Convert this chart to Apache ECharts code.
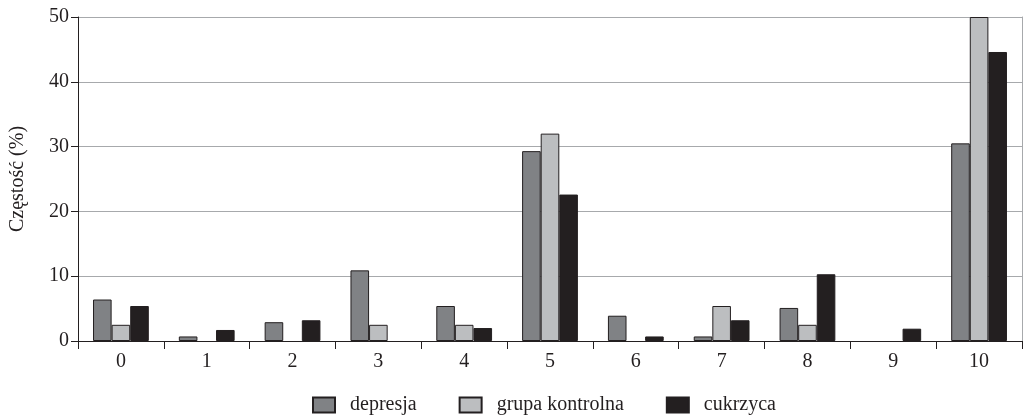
<!DOCTYPE html>
<html>
<head>
<meta charset="utf-8">
<script src="https://cdn.jsdelivr.net/npm/echarts@6/dist/echarts.min.js"></script>
<style>html,body{margin:0;padding:0;background:#fff}#c{width:1028px;height:415px}</style>
</head>
<body>
<div id="c"></div>
<script>
const categories = ['0','1','2','3','4','5','6','7','8','9','10'];
const depresja = [6.4, 0.7, 2.9, 10.9, 5.4, 29.3, 3.9, 0.7, 5.1, 0, 30.5];
const grupaKontrolna = [2.5, 0, 0, 2.5, 2.5, 32.0, 0, 5.4, 2.5, 0, 50];
const cukrzyca = [5.4, 1.7, 3.2, 0, 2.0, 22.6, 0.7, 3.2, 10.3, 1.9, 44.6];
const seriesNames = ['depresja', 'grupa kontrolna', 'cukrzyca'];
const yTicks = [0, 10, 20, 30, 40, 50];

const FONT = '"Liberation Serif", "DejaVu Serif", serif';
const chart = echarts.init(document.getElementById('c'));
const toItems = (arr) => arr.map(v => v === 0 ? { value: 0, itemStyle: { borderWidth: 0, opacity: 0 } } : v);
const barStyle = (fill) => ({ color: fill, borderColor: '#231f20', borderWidth: 1 });
chart.setOption({
  animation: false,
  textStyle: { fontFamily: FONT },
  grid: { left: 77, right: 6, top: 17, bottom: 74, containLabel: false },
  legend: {
    data: seriesNames,
    left: 307, top: 390,
    itemWidth: 22, itemHeight: 15, itemGap: 42,
    textStyle: { fontFamily: FONT, fontSize: 20, color: '#231f20', padding: [0,0,0,10] },
    icon: 'rect'
  },
  xAxis: [{
    type: 'category', data: categories, position: 'bottom',
    axisLine: { lineStyle: { color: '#231f20', width: 1 } },
    axisTick: { show: true, length: 8, lineStyle: { color: '#231f20' } },
    axisLabel: { fontFamily: FONT, fontSize: 20, color: '#231f20', margin: 11 }
  }, {
    type: 'category', data: categories, position: 'top',
    axisLine: { show: true, lineStyle: { color: '#231f20', width: 1 } },
    axisTick: { show: false }, axisLabel: { show: false }
  }],
  yAxis: [{
    type: 'value', min: yTicks[0], max: yTicks[yTicks.length-1], interval: 10,
    name: 'Częstość (%)', nameLocation: 'middle', nameGap: 50, nameRotate: 90,
    nameTextStyle: { fontFamily: FONT, fontSize: 20, color: '#231f20' },
    axisLine: { show: true, lineStyle: { color: '#231f20', width: 1 } },
    axisTick: { show: true, length: 7, lineStyle: { color: '#231f20' } },
    axisLabel: { fontFamily: FONT, fontSize: 20, color: '#231f20', margin: 9 },
    splitLine: { show: true, lineStyle: { color: '#a7a9ac', width: 1 } }
  }, {
    type: 'value', min: 0, max: 50, interval: 10, position: 'right',
    axisLine: { show: true, lineStyle: { color: '#a7a9ac', width: 1 } },
    axisTick: { show: false }, axisLabel: { show: false }, splitLine: { show: false }
  }],
  series: [
    { name: seriesNames[0], type: 'bar', data: toItems(depresja), itemStyle: barStyle('#808285'), barGap: '0%', barCategoryGap: '35%' },
    { name: seriesNames[1], type: 'bar', data: toItems(grupaKontrolna), itemStyle: barStyle('#bcbec0'), barGap: '0%', barCategoryGap: '35%' },
    { name: seriesNames[2], type: 'bar', data: toItems(cukrzyca), itemStyle: barStyle('#231f20'), barGap: '0%', barCategoryGap: '35%' }
  ]
});
</script>
</body>
</html>
